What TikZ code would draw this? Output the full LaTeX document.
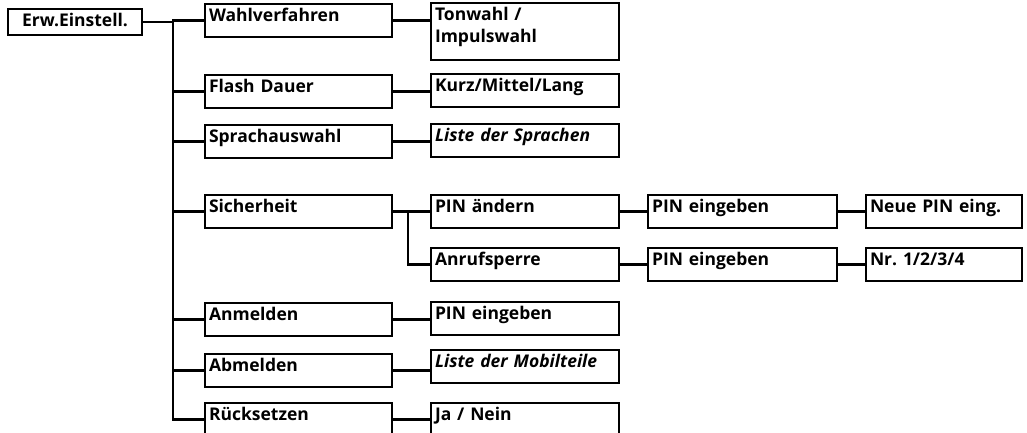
\documentclass[tikz,border=0pt]{standalone}
\usepackage{fontspec}
\setmainfont{Open Sans}
\usepackage{tikz}

\tikzset{
  menu/.style={draw, line width=2.5pt, outer sep=0pt, anchor=north west,
    inner xsep=4pt, inner ysep=4pt, align=left,
    text height=13pt, text depth=12pt,
    font=\bfseries\fontsize{17.5}{22}\selectfont},
  lvlone/.style={menu, text width=179pt},
  lvltwo/.style={menu, text width=180pt},
  lvlthree/.style={menu, text width=181pt},
  lvlfour/.style={menu, text width=148pt},
  link/.style={line width=2.2pt, line join=miter},
}

\begin{document}
\begin{tikzpicture}[x=1pt, y=-1pt]
  \useasboundingbox (0,0) rectangle (1027,432);
  % Root
  \node[menu, align=center, text width=126pt, text height=13pt, text depth=5pt] (erw) at (8,9) {Erw.Einstell.};
  % First level
  \node[lvlone] (wahl) at (205,4) {Wahlverfahren};
  \node[lvlone] (flash) at (205,75) {Flash Dauer};
  \node[lvlone] (sprache) at (205,125) {Sprachauswahl};
  \node[lvlone] (sicher) at (205,195) {Sicherheit};
  \node[lvlone] (anmeld) at (205,303) {Anmelden};
  \node[lvlone] (abmeld) at (205,354) {Abmelden};
  \node[lvlone] (reset) at (205,403) {Rücksetzen};
  % Second level
  \node[lvltwo, text depth=36pt] (tonwahl) at (431,3) {Tonwahl /\\Impulswahl};
  \node[lvltwo] (kurz) at (431,74) {Kurz/Mittel/Lang};
  \node[lvltwo] (sprliste) at (431,124) {\itshape Liste der Sprachen};
  \node[lvltwo] (pinaend) at (431,195) {PIN ändern};
  \node[lvltwo] (sperre) at (431,248) {Anrufsperre};
  \node[lvltwo] (pinanm) at (431,302) {PIN eingeben};
  \node[lvltwo] (mobliste) at (431,350) {\itshape Liste der Mobilteile};
  \node[lvltwo] (janein) at (431,403) {Ja / Nein};
  % Third and fourth level
  \node[lvlthree] (pinalt) at (648,195) {PIN eingeben};
  \node[lvlthree] (pinsperre) at (648,248) {PIN eingeben};
  \node[lvlfour] (pinneu) at (866,195) {Neue PIN eing.};
  \node[lvlfour] (nummer) at (866,248) {Nr.\ 1/2/3/4};
  % Trunk from the root
  \coordinate (trunk) at (173,0);
  \foreach \c in {wahl,flash,sprache,sicher,anmeld,abmeld,reset}
    \draw[link] (erw.east) -| (trunk |- \c.west) -- (\c.west);
  % Straight links
  \foreach \a/\b in {wahl/tonwahl, flash/kurz, sprache/sprliste, anmeld/pinanm,
      abmeld/mobliste, reset/janein, pinaend/pinalt, sperre/pinsperre,
      pinalt/pinneu, pinsperre/nummer}
    \draw[link] (\a.east) -- (\a.east -| \b.west);
  % Fork under Sicherheit
  \coordinate (fork) at (408,0);
  \draw[link] (sicher.east) -- (sicher.east -| pinaend.west);
  \draw[link] (sicher.east -| fork) |- (sperre.west);
\end{tikzpicture}
\end{document}
